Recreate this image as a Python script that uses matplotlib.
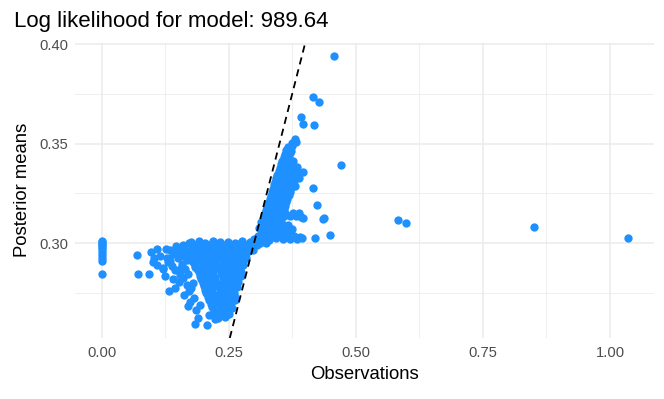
import matplotlib
matplotlib.use("Agg")
import matplotlib.pyplot as plt

plt.rcParams['font.family'] = ['Liberation Sans', 'DejaVu Sans']

# observations equal to zero
zero_x = [0.0] * 11
zero_y = [0.3012, 0.3005, 0.2997, 0.2989, 0.2980, 0.2969, 0.2956, 0.2941, 0.2923, 0.2908, 0.2842]

# sparse cloud left of the dense part
left_x = [0.069, 0.071, 0.094, 0.097, 0.1085, 0.104, 0.1005, 0.120, 0.1268, 0.1215,
          0.1465, 0.1727, 0.1334, 0.1445, 0.163, 0.1695, 0.1839, 0.1314, 0.1347, 0.154,
          0.166, 0.115, 0.141, 0.150, 0.158, 0.145, 0.138, 0.160, 0.170, 0.175,
          0.178, 0.184, 0.152, 0.168, 0.176, 0.181, 0.186, 0.173, 0.190, 0.157,
          0.162, 0.183, 0.187, 0.128, 0.110, 0.2069, 0.1937, 0.212, 0.2232, 0.2429,
          0.135, 0.148, 0.160, 0.169, 0.155, 0.165, 0.140, 0.125, 0.180, 0.172]
left_y = [0.2940, 0.2845, 0.2843, 0.2957, 0.2970, 0.2925, 0.2905, 0.2870, 0.2970, 0.2875,
          0.2985, 0.2998, 0.2757, 0.2773, 0.2740, 0.2683, 0.2595, 0.2903, 0.2912, 0.2870,
          0.2953, 0.2935, 0.2945, 0.2925, 0.2895, 0.2865, 0.2885, 0.2825, 0.2845, 0.2915,
          0.2960, 0.2985, 0.2805, 0.2790, 0.2775, 0.2725, 0.2665, 0.2705, 0.2625, 0.2972,
          0.2935, 0.2880, 0.2935, 0.2925, 0.2890, 0.2590, 0.2687, 0.2637, 0.2617, 0.2667,
          0.2965, 0.2955, 0.2990, 0.2915, 0.2840, 0.2870, 0.2820, 0.2835, 0.2800, 0.2760]

# dense triangle below 0.30
blob_x = [0.176, 0.191, 0.204, 0.219, 0.233, 0.248, 0.262, 0.277, 0.291, 0.304, 0.318, 0.330,
          0.184, 0.198, 0.212, 0.226, 0.241, 0.255, 0.270, 0.284, 0.298, 0.312, 0.324,
          0.163, 0.178, 0.193, 0.207, 0.222, 0.236, 0.251, 0.266, 0.280, 0.294, 0.306,
          0.170, 0.185, 0.200, 0.214, 0.229, 0.243, 0.258, 0.272, 0.286, 0.298,
          0.172, 0.186, 0.201, 0.216, 0.230, 0.244, 0.258, 0.272, 0.285,
          0.176, 0.190, 0.205, 0.220, 0.234, 0.248, 0.262, 0.276, 0.284,
          0.180, 0.195, 0.209, 0.224, 0.238, 0.252, 0.266, 0.279,
          0.184, 0.199, 0.213, 0.227, 0.241, 0.255, 0.269, 0.278,
          0.188, 0.203, 0.217, 0.231, 0.245, 0.259, 0.273,
          0.191, 0.206, 0.220, 0.234, 0.248, 0.262, 0.274,
          0.194, 0.208, 0.222, 0.236, 0.250, 0.263, 0.275,
          0.196, 0.210, 0.224, 0.238, 0.252, 0.266,
          0.199, 0.213, 0.227, 0.241, 0.255, 0.268,
          0.201, 0.215, 0.229, 0.243, 0.257, 0.266,
          0.204, 0.218, 0.232, 0.246, 0.259,
          0.206, 0.220, 0.234, 0.248, 0.261,
          0.209, 0.223, 0.237, 0.250, 0.263,
          0.212, 0.226, 0.240, 0.253, 0.262,
          0.215, 0.229, 0.243, 0.255,
          0.218, 0.232, 0.245, 0.256,
          0.221, 0.235, 0.248,
          0.225, 0.238, 0.250,
          0.229, 0.242]
blob_y = [0.3004, 0.3008, 0.3001, 0.3009, 0.3003, 0.3007, 0.3002, 0.3010, 0.3005, 0.3012, 0.3008, 0.3015,
          0.2990, 0.2987, 0.2992, 0.2988, 0.2991, 0.2986, 0.2993, 0.2989, 0.2994, 0.2998, 0.3000,
          0.2972, 0.2978, 0.2970, 0.2977, 0.2973, 0.2979, 0.2971, 0.2976, 0.2980, 0.2983, 0.2990,
          0.2957, 0.2953, 0.2959, 0.2955, 0.2958, 0.2952, 0.2960, 0.2956, 0.2961, 0.2965,
          0.2938, 0.2944, 0.2936, 0.2942, 0.2939, 0.2945, 0.2937, 0.2941, 0.2946,
          0.2922, 0.2918, 0.2924, 0.2920, 0.2923, 0.2917, 0.2925, 0.2921, 0.2926,
          0.2903, 0.2908, 0.2900, 0.2906, 0.2902, 0.2909, 0.2904, 0.2907,
          0.2888, 0.2884, 0.2890, 0.2886, 0.2889, 0.2883, 0.2891, 0.2887,
          0.2868, 0.2873, 0.2866, 0.2872, 0.2869, 0.2874, 0.2871,
          0.2852, 0.2849, 0.2855, 0.2851, 0.2854, 0.2848, 0.2853,
          0.2833, 0.2838, 0.2831, 0.2837, 0.2834, 0.2839, 0.2836,
          0.2817, 0.2814, 0.2819, 0.2815, 0.2818, 0.2813,
          0.2798, 0.2803, 0.2796, 0.2802, 0.2799, 0.2804,
          0.2782, 0.2779, 0.2784, 0.2780, 0.2783, 0.2778,
          0.2763, 0.2768, 0.2761, 0.2767, 0.2764,
          0.2747, 0.2744, 0.2749, 0.2745, 0.2748,
          0.2728, 0.2733, 0.2726, 0.2732, 0.2729,
          0.2712, 0.2709, 0.2714, 0.2710, 0.2713,
          0.2693, 0.2698, 0.2691, 0.2697,
          0.2677, 0.2674, 0.2679, 0.2675,
          0.2658, 0.2663, 0.2656,
          0.2642, 0.2639, 0.2644,
          0.2623, 0.2627]

# rising branch above 0.30
branch_x = [0.300, 0.315, 0.329, 0.343, 0.357, 0.371, 0.384,
            0.308, 0.322, 0.336, 0.350, 0.364, 0.378, 0.390,
            0.316, 0.329, 0.342, 0.355, 0.368,
            0.310, 0.323, 0.336, 0.349, 0.362, 0.375,
            0.316, 0.330, 0.343, 0.356, 0.366,
            0.314, 0.327, 0.340, 0.352,
            0.319, 0.332, 0.345, 0.358, 0.370, 0.382, 0.393,
            0.322, 0.335, 0.347, 0.360, 0.376, 0.388,
            0.324, 0.337, 0.349, 0.358,
            0.326, 0.338, 0.350, 0.361,
            0.328, 0.340, 0.352, 0.363,
            0.331, 0.343, 0.355, 0.365,
            0.333, 0.345, 0.357, 0.368,
            0.335, 0.347, 0.359, 0.370,
            0.337, 0.349, 0.361, 0.372,
            0.340, 0.352, 0.364, 0.375,
            0.342, 0.354, 0.366, 0.378,
            0.344, 0.356, 0.368, 0.380, 0.389,
            0.346, 0.358, 0.370, 0.382,
            0.349, 0.360, 0.372, 0.384,
            0.351, 0.362, 0.373, 0.384,
            0.353, 0.364, 0.375,
            0.355, 0.366, 0.377,
            0.358, 0.369,
            0.360, 0.371,
            0.363, 0.372,
            0.366, 0.375,
            0.375, 0.382]
branch_y = [0.3020, 0.3024, 0.3018, 0.3023, 0.3019, 0.3022, 0.3021,
            0.3036, 0.3041, 0.3034, 0.3040, 0.3037, 0.3033, 0.3030,
            0.3057, 0.3053, 0.3059, 0.3055, 0.3058,
            0.3073, 0.3078, 0.3071, 0.3077, 0.3074, 0.3072,
            0.3092, 0.3088, 0.3094, 0.3090, 0.3093,
            0.3108, 0.3113, 0.3106, 0.3112,
            0.3133, 0.3138, 0.3131, 0.3137, 0.3134, 0.3136, 0.3132,
            0.3152, 0.3148, 0.3154, 0.3150, 0.3153, 0.3149,
            0.3168, 0.3173, 0.3166, 0.3172,
            0.3187, 0.3183, 0.3189, 0.3185,
            0.3203, 0.3208, 0.3201, 0.3207,
            0.3222, 0.3218, 0.3224, 0.3220,
            0.3238, 0.3243, 0.3236, 0.3242,
            0.3257, 0.3253, 0.3259, 0.3255,
            0.3273, 0.3278, 0.3271, 0.3277,
            0.3292, 0.3288, 0.3294, 0.3290,
            0.3308, 0.3313, 0.3306, 0.3312,
            0.3327, 0.3323, 0.3329, 0.3325, 0.3328,
            0.3343, 0.3348, 0.3341, 0.3347,
            0.3362, 0.3358, 0.3364, 0.3360,
            0.3378, 0.3383, 0.3376, 0.3382,
            0.3397, 0.3393, 0.3399,
            0.3413, 0.3418, 0.3411,
            0.3432, 0.3428,
            0.3448, 0.3452,
            0.3467, 0.3463,
            0.3483, 0.3487,
            0.3505, 0.3510]

# scattered points on the right
out_x = [0.4572, 0.4165, 0.4277, 0.3923, 0.3970, 0.4173, 0.3805, 0.4710, 0.3956, 0.4165,
         0.4238, 0.3969, 0.4382, 0.4350, 0.4487, 0.4193, 0.3937, 0.5825, 0.5982, 0.8510,
         1.0350, 0.3805, 0.3710, 0.3540]
out_y = [0.3940, 0.3734, 0.3707, 0.3634, 0.3597, 0.3592, 0.3524, 0.3392, 0.3357, 0.3275,
         0.3190, 0.3125, 0.3128, 0.3120, 0.3042, 0.3023, 0.3025, 0.3115, 0.3103, 0.3080,
         0.3024, 0.3287, 0.3070, 0.3053]

obs = zero_x + left_x + blob_x + branch_x + out_x
post = zero_y + left_y + blob_y + branch_y + out_y

x_ticks = [0.0, 0.25, 0.5, 0.75, 1.0]
y_ticks = [0.30, 0.35, 0.40]

fig = plt.figure(figsize=(6.64, 3.99), dpi=100)
ax = fig.add_axes([0.1133, 0.1529, 0.8718, 0.7403])

ax.scatter(obs, post, s=36, color='#1E90FF', linewidths=0, zorder=3)
ax.axline((0, 0), slope=1, color='black', lw=1.3, dashes=(4, 2.8), zorder=4)

xr = max(obs) - min(obs)
yr = max(post) - min(post)
ax.set_xlim(min(obs) - 0.05 * xr, max(obs) + 0.05 * xr)
ax.set_ylim(min(post) - 0.05 * yr, max(post) + 0.05 * yr)

ax.set_xticks(x_ticks)
ax.set_xticklabels(['%.2f' % v for v in x_ticks])
ax.set_yticks(y_ticks)
ax.set_yticklabels(['%.2f' % v for v in y_ticks])
ax.set_xticks([0.125, 0.375, 0.625, 0.875], minor=True)
ax.set_yticks([0.275, 0.325, 0.375], minor=True)

ax.grid(which='major', color='#EBEBEB', lw=1.1)
ax.grid(which='minor', color='#EBEBEB', lw=0.55)
ax.set_axisbelow(True)
for s in ax.spines.values():
    s.set_visible(False)
ax.tick_params(which='both', length=0, labelsize=10.6, labelcolor='#4D4D4D')
ax.tick_params(axis='x', pad=6)
ax.tick_params(axis='y', pad=5)

ax.set_xlabel('Observations', fontsize=13.3, labelpad=4)
ax.set_ylabel('Posterior means', fontsize=13.3, labelpad=6)
fig.text(14 / 664, 1 - 27 / 399, 'Log likelihood for model: 989.64', fontsize=16, ha='left', va='baseline')

fig.savefig('out.png', dpi=100)
